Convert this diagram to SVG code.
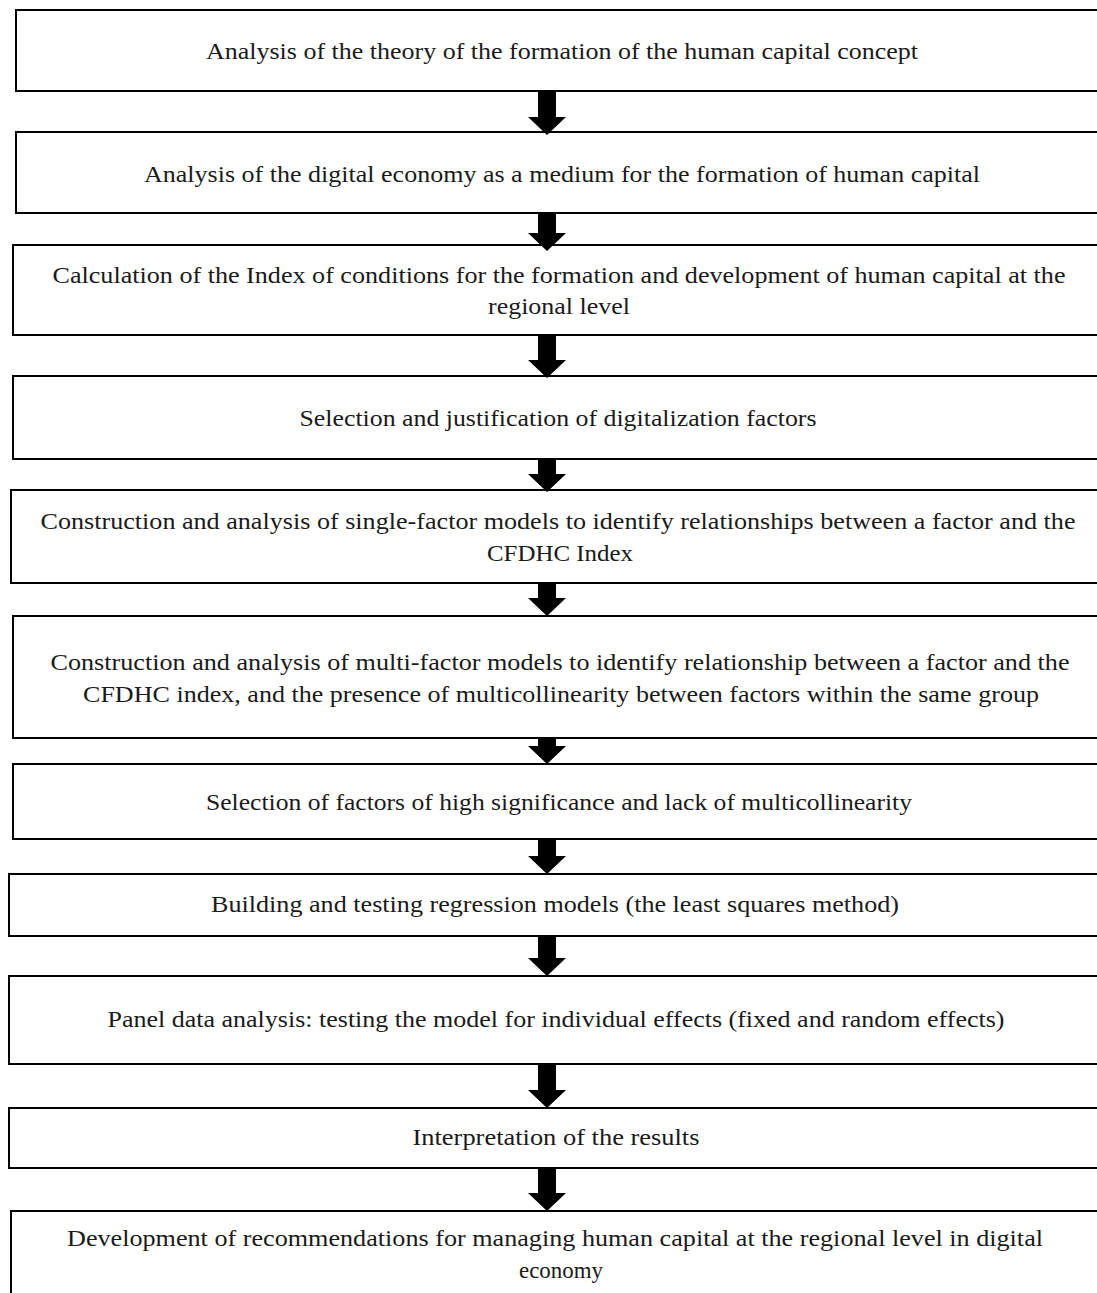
<svg xmlns="http://www.w3.org/2000/svg" width="1097" height="1293" viewBox="0 0 1097 1293">
<style>
.box{fill:#fff;stroke:#000;stroke-width:2}
.t{font-family:"Liberation Serif","Times New Roman",serif;font-size:23px;fill:#1a1a1a;text-anchor:middle}
.arr{fill:#000;stroke:none}
</style>
<rect width="1097" height="1293" fill="#fff"/>
<g id="n1"><rect class="box" x="16" y="10" width="1090" height="81"/>
<text class="t" x="562" y="59" textLength="712" lengthAdjust="spacingAndGlyphs">Analysis of the theory of the formation of the human capital concept</text></g>
<g id="n2"><rect class="box" x="16" y="132" width="1090" height="81"/>
<text class="t" x="562" y="182" textLength="836" lengthAdjust="spacingAndGlyphs">Analysis of the digital economy as a medium for the formation of human capital</text></g>
<g id="n3"><rect class="box" x="13" y="245" width="1093" height="90"/>
<text class="t" x="559" y="283" textLength="1013" lengthAdjust="spacingAndGlyphs">Calculation of the Index of conditions for the formation and development of human capital at the</text>
<text class="t" x="559" y="314" textLength="142" lengthAdjust="spacingAndGlyphs">regional level</text></g>
<g id="n4"><rect class="box" x="13" y="376" width="1093" height="83"/>
<text class="t" x="558" y="426" textLength="517" lengthAdjust="spacingAndGlyphs">Selection and justification of digitalization factors</text></g>
<g id="n5"><rect class="box" x="11" y="490" width="1095" height="93"/>
<text class="t" x="558" y="529" textLength="1035" lengthAdjust="spacingAndGlyphs">Construction and analysis of single-factor models to identify relationships between a factor and the</text>
<text class="t" x="560" y="561" textLength="146" lengthAdjust="spacingAndGlyphs">CFDHC Index</text></g>
<g id="n6"><rect class="box" x="13" y="616" width="1093" height="122"/>
<text class="t" x="560" y="670" textLength="1019" lengthAdjust="spacingAndGlyphs">Construction and analysis of multi-factor models to identify relationship between a factor and the</text>
<text class="t" x="561" y="702" textLength="956" lengthAdjust="spacingAndGlyphs">CFDHC index, and the presence of multicollinearity between factors within the same group</text></g>
<g id="n7"><rect class="box" x="13" y="764" width="1093" height="75"/>
<text class="t" x="559" y="810" textLength="706" lengthAdjust="spacingAndGlyphs">Selection of factors of high significance and lack of multicollinearity</text></g>
<g id="n8"><rect class="box" x="9" y="874" width="1097" height="62"/>
<text class="t" x="555" y="912" textLength="688" lengthAdjust="spacingAndGlyphs">Building and testing regression models (the least squares method)</text></g>
<g id="n9"><rect class="box" x="9" y="976" width="1097" height="88"/>
<text class="t" x="556" y="1027" textLength="897" lengthAdjust="spacingAndGlyphs">Panel data analysis: testing the model for individual effects (fixed and random effects)</text></g>
<g id="n10"><rect class="box" x="9" y="1108" width="1097" height="60"/>
<text class="t" x="556" y="1145" textLength="287" lengthAdjust="spacingAndGlyphs">Interpretation of the results</text></g>
<g id="n11"><rect class="box" x="11" y="1211" width="1095" height="100"/>
<text class="t" x="555" y="1246" textLength="976" lengthAdjust="spacingAndGlyphs">Development of recommendations for managing human capital at the regional level in digital</text>
<text class="t" x="561" y="1278" textLength="84" lengthAdjust="spacingAndGlyphs">economy</text></g>
<g id="connectors">
<polygon class="arr" points="538,91 556,91 556,117 566,117 547,135 528,117 538,117"/>
<polygon class="arr" points="538,213 556,213 556,233 566,233 547,251 528,233 538,233"/>
<polygon class="arr" points="538,335 556,335 556,360 566,360 547,378 528,360 538,360"/>
<polygon class="arr" points="538,459 556,459 556,474 566,474 547,492 528,474 538,474"/>
<polygon class="arr" points="538,583 556,583 556,598 566,598 547,616 528,598 538,598"/>
<polygon class="arr" points="538,738 556,738 556,746 566,746 547,764 528,746 538,746"/>
<polygon class="arr" points="538,839 556,839 556,856 566,856 547,874 528,856 538,856"/>
<polygon class="arr" points="538,936 556,936 556,958 566,958 547,976 528,958 538,958"/>
<polygon class="arr" points="538,1064 556,1064 556,1090 566,1090 547,1108 528,1090 538,1090"/>
<polygon class="arr" points="538,1168 556,1168 556,1193 566,1193 547,1211 528,1193 538,1193"/>
</g>
</svg>
